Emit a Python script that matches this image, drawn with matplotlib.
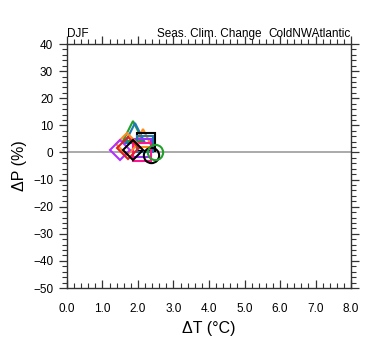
import numpy as np
import matplotlib.pyplot as plt
from matplotlib.ticker import MultipleLocator, FormatStrFormatter

plt.rcParams['font.family'] = ['Liberation Sans', 'DejaVu Sans']

# model points: warming (degC) and precip change (%)
dT = [1.85, 1.92, 2.15, 2.22, 2.12, 2.20, 2.12, 2.38, 2.48, 1.70, 1.48, 1.72, 1.85]
dP = [8.0, 7.0, 5.5, 4.0, 1.5, 3.0, 0.0, -1.0, 0.0, 3.0, 1.0, 1.5, 1.0]
markers = ['^', '^', '^', 's', 's', 's', 's', 'o', 'o', 'D', 'D', 'D', 'D']
colors = ['#22a02c', '#1f77b4', '#ff8c1a', 'black', '#9932ff', '#1f77b4', '#ff1493',
          'black', '#22a02c', '#ff8c1a', '#b030ff', '#e02020', 'black']
sizes = [15, 14, 13, 13, 13, 12, 13, 11, 11, 11, 10, 11, 10]

fig = plt.figure(figsize=(3.8, 3.55), dpi=100)
ax = fig.add_axes([0.1763, 0.1887, 0.7474, 0.6873])

ax.axhline(0, color='#aaaaaa', lw=1.4, zorder=1)
for x, y, m, c, s in zip(dT, dP, markers, colors, sizes):
    ax.plot(x, y, marker=m, ms=s, mfc='none', mec=c, mew=1.5, ls='none', zorder=3)

ax.set_xlim(0, 8)
ax.set_ylim(-50, 40)
ax.xaxis.set_major_locator(MultipleLocator(1))
ax.xaxis.set_minor_locator(MultipleLocator(0.2))
ax.yaxis.set_major_locator(MultipleLocator(10))
ax.yaxis.set_minor_locator(MultipleLocator(2))
ax.xaxis.set_major_formatter(FormatStrFormatter('%.1f'))

ax.tick_params(axis='x', which='both', direction='in', top=False, labelsize=8.5, pad=11)
ax.tick_params(axis='y', which='both', direction='out', right=True, labelsize=8.5, pad=4)
ax.tick_params(which='major', length=6, width=0.9, color='#333333')
ax.tick_params(which='minor', length=3.5, width=0.8, color='#333333')

top = ax.secondary_xaxis('top')
top.xaxis.set_major_locator(MultipleLocator(1))
top.xaxis.set_minor_locator(MultipleLocator(0.2))
top.tick_params(which='both', direction='out', labeltop=False, color='#333333')
top.tick_params(which='major', length=6, width=0.9)
top.tick_params(which='minor', length=3.5, width=0.8)
top.spines['top'].set_visible(False)

for sp in ax.spines.values():
    sp.set_color('#333333')
    sp.set_linewidth(1.0)

ax.set_xlabel('\u0394T (\u00b0C)', fontsize=11.5, labelpad=4)
ax.set_ylabel('\u0394P (%)', fontsize=11.5, labelpad=4)

ax.text(0.0, 1.018, 'DJF', transform=ax.transAxes, fontsize=8.5, ha='left', va='bottom')
ax.text(0.5, 1.018, 'Seas. Clim. Change', transform=ax.transAxes, fontsize=8.5, ha='center', va='bottom')
ax.text(1.0, 1.018, 'ColdNWAtlantic', transform=ax.transAxes, fontsize=8.5, ha='right', va='bottom')

fig.savefig('out.png', dpi=100)
